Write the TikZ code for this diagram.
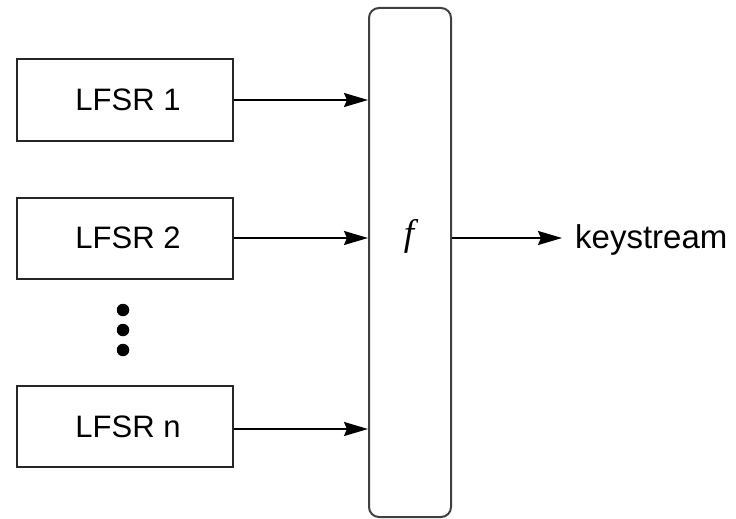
\documentclass[tikz,border=0pt]{standalone}
\usepackage{fontspec}
\setmainfont{Liberation Sans}
\newfontfamily\serifit{Liberation Serif}
\usetikzlibrary{arrows.meta}
\begin{document}
\begin{tikzpicture}[x=1pt,y=-1pt,
  lfsr/.style={draw=black!85,line width=2pt,minimum width=216pt,minimum height=81pt,inner sep=0pt,font=\fontsize{31}{36}\selectfont},
  fbox/.style={draw=black!75,line width=2pt,rounded corners=10pt,minimum width=82pt,minimum height=509pt,inner sep=0pt},
  conn/.style={line width=2pt,-{Stealth[length=24pt,width=14pt,inset=3pt]}},
  dot/.style={circle,fill=black,minimum size=12.5pt,inner sep=0pt}]
\useasboundingbox (0,0) rectangle (736,519);
\node[lfsr] (l1) at (125,100) {\hspace*{6pt}LFSR 1};
\node[lfsr] (l2) at (125,238) {\hspace*{6pt}LFSR 2};
\node[lfsr] (ln) at (125,426.5) {\hspace*{6pt}LFSR n};
\node[fbox] (f) at (410,262.5) {};
\node at (409,236) {\fontsize{37}{40}\selectfont\serifit\itshape f};
\node[dot] (d1) at (123,310) {};
\node[dot] (d2) at (123,330) {};
\node[dot] (d3) at (123,350) {};
\coordinate (o) at (562,238);
\coordinate (nout) at ([yshift=-2.5pt]ln.east);
\node[anchor=west,inner sep=0pt,font=\fontsize{33}{36}\selectfont] (ks) at (575,240) {keystream};
\draw[conn] (l1.east) -- (l1.east -| f.west);
\draw[conn] (l2.east) -- (l2.east -| f.west);
\draw[conn] (nout) -- (nout -| f.west);
\draw[conn] (f.east |- l2.east) -- (o);
\end{tikzpicture}
\end{document}
